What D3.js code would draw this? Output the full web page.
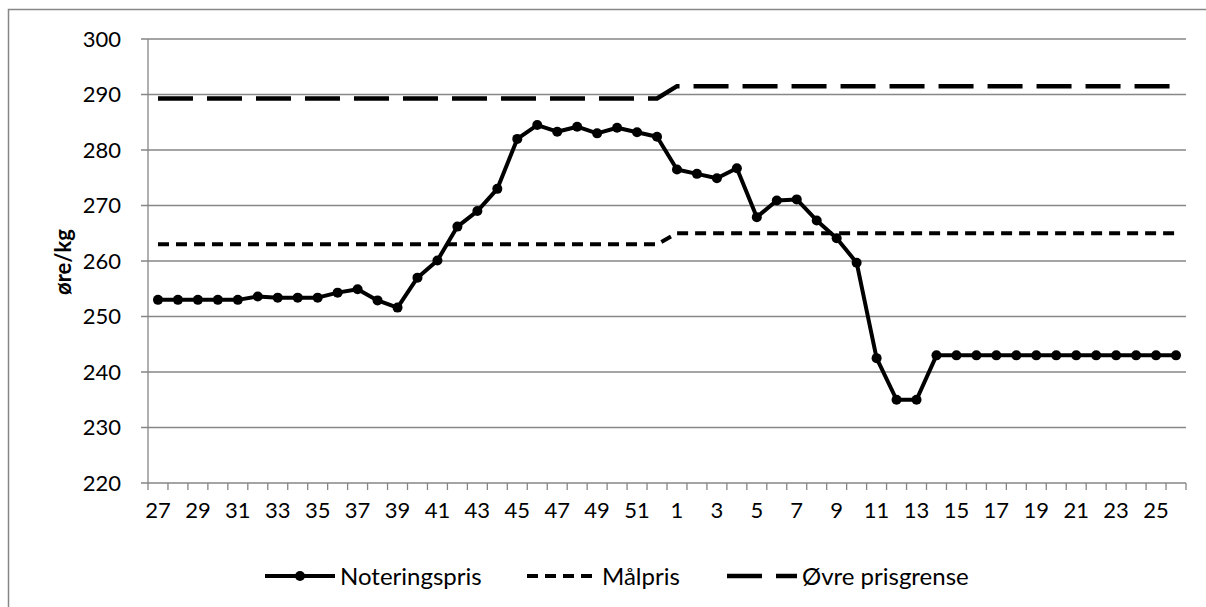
<!DOCTYPE html>
<html>
<head>
<meta charset="utf-8">
<script src="https://cdn.jsdelivr.net/npm/d3@7"></script>
<style>
  body { margin: 0; background: #fff; }
  svg { display: block; font-family: Lato, "Open Sans", sans-serif; }
</style>
</head>
<body>
<svg id="chart" width="1206" height="607"></svg>
<script>
// weeks: 27..52 then 1..26
const weeks = [27, 28, 29, 30, 31, 32, 33, 34, 35, 36, 37, 38, 39, 40, 41, 42, 43, 44, 45, 46, 47, 48, 49, 50, 51, 52,
  1, 2, 3, 4, 5, 6, 7, 8, 9, 10, 11, 12, 13, 14, 15, 16, 17, 18, 19, 20, 21, 22, 23, 24, 25, 26];

const noteringspris = [253.0, 253.0, 253.0, 253.0, 253.0, 253.6, 253.4, 253.4, 253.4, 254.3, 254.9, 252.9, 251.6,
  257.0, 260.1, 266.2, 269.0, 273.0, 282.0, 284.5, 283.3, 284.2, 283.0, 284.0, 283.2, 282.4,
  276.5, 275.7, 274.9, 276.7, 267.9, 270.9, 271.1, 267.3, 264.1, 259.7, 242.5, 235.0, 235.0,
  243.0, 243.0, 243.0, 243.0, 243.0, 243.0, 243.0, 243.0, 243.0, 243.0, 243.0, 243.0, 243.0];

const malpris = [263, 263, 263, 263, 263, 263, 263, 263, 263, 263, 263, 263, 263,
  263, 263, 263, 263, 263, 263, 263, 263, 263, 263, 263, 263, 263,
  265, 265, 265, 265, 265, 265, 265, 265, 265, 265, 265, 265, 265,
  265, 265, 265, 265, 265, 265, 265, 265, 265, 265, 265, 265, 265];

const ovrePrisgrense = [289.3, 289.3, 289.3, 289.3, 289.3, 289.3, 289.3, 289.3, 289.3, 289.3, 289.3, 289.3, 289.3,
  289.3, 289.3, 289.3, 289.3, 289.3, 289.3, 289.3, 289.3, 289.3, 289.3, 289.3, 289.3, 289.3,
  291.5, 291.5, 291.5, 291.5, 291.5, 291.5, 291.5, 291.5, 291.5, 291.5, 291.5, 291.5, 291.5,
  291.5, 291.5, 291.5, 291.5, 291.5, 291.5, 291.5, 291.5, 291.5, 291.5, 291.5, 291.5, 291.5];

const yTicks = [220, 230, 240, 250, 260, 270, 280, 290, 300];

const svg = d3.select("#chart");
const gridColor = "#868686";

// outer chart border (right and bottom run off the picture)
svg.append("rect")
  .attr("x", 8.5).attr("y", 9.5)
  .attr("width", 1300).attr("height", 700)
  .attr("fill", "none")
  .attr("stroke", "#868686")
  .attr("stroke-width", 1.5);

const idx = weeks.map((w, i) => i);
const x = d3.scaleBand().domain(idx).range([148, 1186]);
const y = d3.scaleLinear().domain([220, 300]).range([483, 39]);
const cx = (i) => x(i) + x.bandwidth() / 2;

// gridlines
svg.append("g")
  .selectAll("line")
  .data(yTicks)
  .enter()
  .append("line")
  .attr("x1", 141)
  .attr("x2", 1186)
  .attr("y1", (d) => y(d))
  .attr("y2", (d) => y(d))
  .attr("stroke", gridColor)
  .attr("stroke-width", 1.3);

// y axis line
svg.append("line")
  .attr("x1", 148).attr("x2", 148)
  .attr("y1", y(300)).attr("y2", y(220))
  .attr("stroke", gridColor)
  .attr("stroke-width", 1.3);

// y labels
svg.append("g")
  .selectAll("text")
  .data(yTicks)
  .enter()
  .append("text")
  .attr("x", 121)
  .attr("y", (d) => y(d))
  .attr("dy", "0.36em")
  .attr("text-anchor", "end")
  .attr("font-size", 22)
  .attr("fill", "#000")
  .text((d) => d);

// x ticks at band edges
const edges = idx.map((i) => x(i)).concat([1186]);
svg.append("g")
  .selectAll("line")
  .data(edges)
  .enter()
  .append("line")
  .attr("x1", (d) => d)
  .attr("x2", (d) => d)
  .attr("y1", y(220))
  .attr("y2", y(220) + 7)
  .attr("stroke", gridColor)
  .attr("stroke-width", 1.3);

// x labels, every other week
svg.append("g")
  .selectAll("text")
  .data(idx.filter((i) => i % 2 === 0))
  .enter()
  .append("text")
  .attr("x", (i) => cx(i))
  .attr("y", 518)
  .attr("text-anchor", "middle")
  .attr("font-size", 22)
  .attr("fill", "#000")
  .text((i) => weeks[i]);

// y axis title
svg.append("text")
  .attr("transform", "translate(71,262) rotate(-90)")
  .attr("text-anchor", "middle")
  .attr("font-size", 22)
  .attr("font-weight", "bold")
  .text("øre/kg");

const line = d3.line()
  .x((d, i) => cx(i))
  .y((d) => y(d));

svg.append("path")
  .datum(malpris)
  .attr("d", line)
  .attr("fill", "none")
  .attr("stroke", "#000")
  .attr("stroke-width", 4)
  .attr("stroke-dasharray", "11,7");

svg.append("path")
  .datum(ovrePrisgrense)
  .attr("d", line)
  .attr("fill", "none")
  .attr("stroke", "#000")
  .attr("stroke-width", 4.5)
  .attr("stroke-dasharray", "35,14");

svg.append("path")
  .datum(noteringspris)
  .attr("d", line)
  .attr("fill", "none")
  .attr("stroke", "#000")
  .attr("stroke-width", 4)
  .attr("stroke-linejoin", "round");

svg.append("g")
  .selectAll("circle")
  .data(noteringspris)
  .enter()
  .append("circle")
  .attr("cx", (d, i) => cx(i))
  .attr("cy", (d) => y(d))
  .attr("r", 5)
  .attr("fill", "#000");

// legend
const legendY = 576;
const legendItems = [
  { name: "Noteringspris", x0: 265, dash: null, marker: true, w: 4 },
  { name: "Målpris", x0: 527, dash: "11,7", marker: false, w: 4 },
  { name: "Øvre prisgrense", x0: 727, dash: "35,14", marker: false, w: 4.5 },
];

const lg = svg.append("g")
  .selectAll("g")
  .data(legendItems)
  .enter()
  .append("g");

lg.append("line")
  .attr("x1", (d) => d.x0)
  .attr("x2", (d) => d.x0 + 70)
  .attr("y1", legendY)
  .attr("y2", legendY)
  .attr("stroke", "#000")
  .attr("stroke-width", (d) => d.w)
  .attr("stroke-dasharray", (d) => d.dash);

lg.filter((d) => d.marker)
  .append("circle")
  .attr("cx", (d) => d.x0 + 35)
  .attr("cy", legendY)
  .attr("r", 5)
  .attr("fill", "#000");

lg.append("text")
  .attr("x", (d) => d.x0 + 75)
  .attr("y", legendY)
  .attr("dy", "0.36em")
  .attr("font-size", 24)
  .attr("fill", "#000")
  .text((d) => d.name);
</script>
</body>
</html>
